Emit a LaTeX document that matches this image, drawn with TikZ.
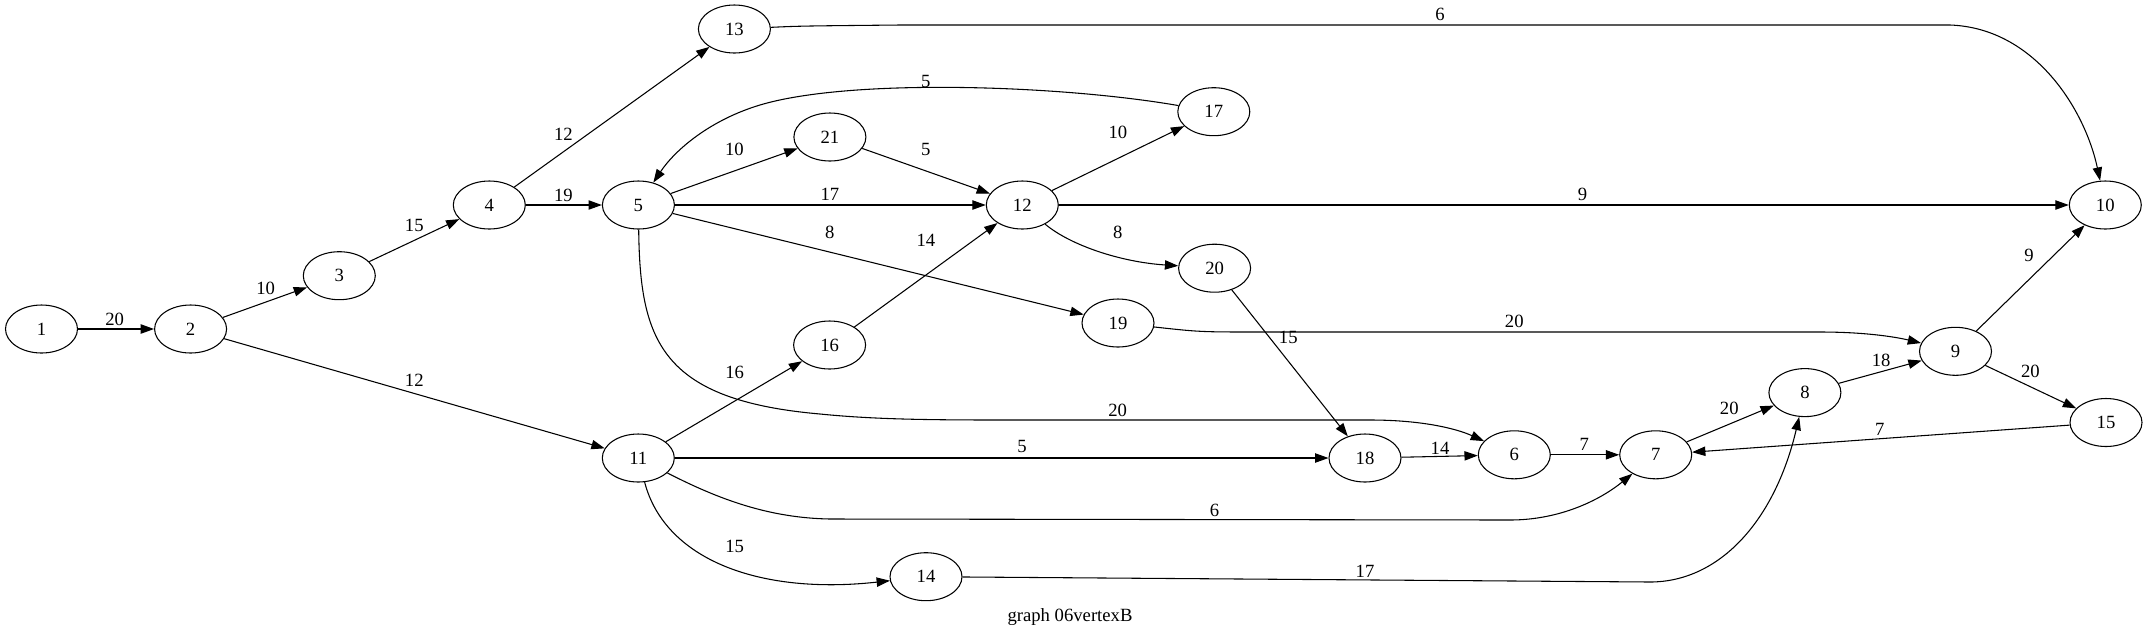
\documentclass[tikz,border=0pt]{standalone}
\usepackage{fontspec}
\setmainfont{Liberation Serif}
\usepackage{tikz}
\usetikzlibrary{shapes,arrows.meta}
\tikzstyle{vertex} = [ellipse, draw, line width=0.8pt, minimum width=54pt, minimum height=36pt,
    inner sep=0pt, font=\fontsize{14}{16}\selectfont]
\tikzstyle{line} = [draw, line width=0.8pt, -{Triangle[length=10pt,width=7pt]}]
\tikzstyle{weight} = [inner sep=0pt, font=\fontsize{14}{16}\selectfont]

\begin{document}
\begin{tikzpicture}[x=0.75pt,y=-0.75pt]
      \useasboundingbox (0,0) rectangle (2143,637);
      \node [vertex] (n1) at (41.5,329) {1};
      \node [vertex] (n2) at (190.6,329) {2};
      \node [vertex] (n3) at (339.3,275.7) {3};
      \node [vertex] (n4) at (489.3,205) {4};
      \node [vertex] (n5) at (638.4,205) {5};
      \node [vertex] (n13) at (734.4,29) {13};
      \node [vertex] (n21) at (829.9,137) {21};
      \node [vertex] (n12) at (1022.3,205) {12};
      \node [vertex] (n17) at (1213.8,111.7) {17};
      \node [vertex] (n20) at (1214.6,268.2) {20};
      \node [vertex] (n10) at (2105.3,205) {10};
      \node [vertex] (n19) at (1118,323) {19};
      \node [vertex] (n16) at (829.6,345) {16};
      \node [vertex] (n9) at (1955.5,351.3) {9};
      \node [vertex] (n8) at (1804.9,392.6) {8};
      \node [vertex] (n15) at (2106,422.5) {15};
      \node [vertex] (n11) at (638.3,458) {11};
      \node [vertex] (n18) at (1365,458) {18};
      \node [vertex] (n6) at (1514.3,454.8) {6};
      \node [vertex] (n7) at (1655.7,454.8) {7};
      \node [vertex] (n14) at (926,576.7) {14};

      \node [weight] (title) at (1070,617) {graph 06vertexB};


      \path [line] (n1) -- (n2) node [weight] at (114.7,319) {20};
      \path [line] (n2) -- (n3) node [weight] at (265.6,288) {10};
      \path [line] (n2) -- (n11) node [weight] at (414.3,380) {12};
      \path [line] (n3) -- (n4) node [weight] at (414.3,225) {15};
      \path [line] (n4) -- (n13) node [weight] at (563.4,134) {12};
      \path [line] (n4) -- (n5) node [weight] at (563.4,195) {19};
      \path [line] (n5) -- (n21) node [weight] at (734.4,149) {10};
      \path [line] (n5) -- (n12) node [weight] at (829.9,194) {17};
      \path [line] (n5) -- (n19) node [weight] at (829.9,232) {8};
      \path [line] (n5) .. controls (640,340) and (660,400) .. (820,414)
          .. controls (870,419) and (920,420) .. (1000,420) -- (1370,420)
          .. controls (1420,420) and (1455,428) .. (n6) node [weight] at (1117.6,410) {20};
      \path [line] (n17) .. controls (1060,85) and (850,78) .. (760,105)
          .. controls (710,120) and (675,150) .. (n5) node [weight] at (925.9,81) {5};
      \path [line] (n21) -- (n12) node [weight] at (925.9,149) {5};
      \path [line] (n16) -- (n12) node [weight] at (925.9,240) {14};
      \path [line] (n11) -- (n16) node [weight] at (734.7,372) {16};
      \path [line] (n12) -- (n17) node [weight] at (1117.9,132) {10};
      \path [line] (n12) -- (n10) node [weight] at (1582.5,194) {9};
      \path [line] (n12) .. controls (1070,245) and (1120,262) .. (n20) node [weight] at (1117.9,232) {8};
      \path [line] (n13) .. controls (800,26) .. (900,25) -- (1950,25)
          .. controls (2035,28) and (2085,110) .. (n10) node [weight] at (1440,14) {6};
      \path [line] (n20) -- (n18) node [weight] at (1288.3,337) {15};
      \path [line] (n19) .. controls (1200,332) .. (1260,332) -- (1820,332)
          .. controls (1870,332) and (1900,338) .. (n9) node [weight] at (1514.3,321) {20};
      \path [line] (n11) -- (n18) node [weight] at (1022,446) {5};
      \path [line] (n11) .. controls (720,500) and (770,518) .. (830,519) -- (1510,520)
          .. controls (1560,520) and (1600,500) .. (n7) node [weight] at (1214.5,510) {6};
      \path [line] (n11) .. controls (665,560) and (760,595) .. (n14) node [weight] at (734.7,546) {15};
      \path [line] (n14) -- (1650,582) .. controls (1720,582) and (1775,520) .. (n8) node [weight] at (1365,571) {17};
      \path [line] (n18) -- (n6) node [weight] at (1440,448) {14};
      \path [line] (n6) -- (n7) node [weight] at (1584.3,444) {7};
      \path [line] (n7) -- (n8) node [weight] at (1729.3,408) {20};
      \path [line] (n8) -- (n9) node [weight] at (1881.2,360) {18};
      \path [line] (n9) -- (n10) node [weight] at (2029,255.5) {9};
      \path [line] (n9) -- (n15) node [weight] at (2030.4,371) {20};
      \path [line] (n15) -- (n7) node [weight] at (1879.8,429) {7};

\end{tikzpicture}
\end{document}
